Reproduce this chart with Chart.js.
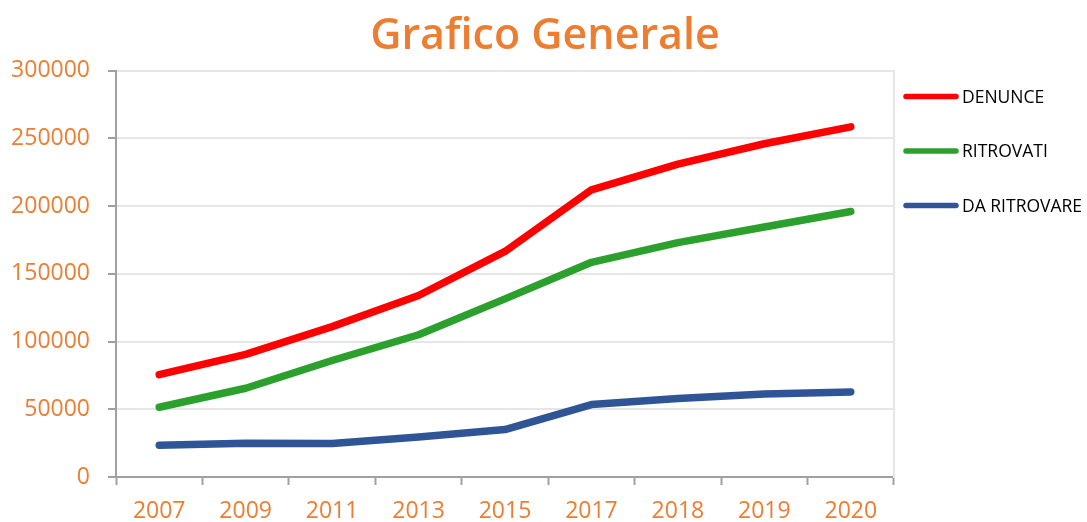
<!DOCTYPE html>
<html>
<head>
<meta charset="utf-8">
<script src="https://cdn.jsdelivr.net/npm/chart.js@4.4.1/dist/chart.umd.min.js"></script>
<style>
  html, body { margin: 0; padding: 0; background: #ffffff; }
  #wrap { width: 1087px; height: 522px; }
</style>
</head>
<body>
<div id="wrap"><canvas id="c" width="1087" height="522"></canvas></div>
<script>
const categories = ['2007', '2009', '2011', '2013', '2015', '2017', '2018', '2019', '2020'];
const denunce = [75500, 90500, 111000, 134000, 166500, 212000, 231000, 246000, 258500];
const ritrovati = [51500, 65500, 86000, 105000, 131500, 158500, 173000, 184500, 196000];
const daRitrovare = [23500, 25000, 24800, 29500, 35000, 53500, 58000, 61200, 62800];
const seriesNames = ['DENUNCE', 'RITROVATI', 'DA RITROVARE'];
const seriesColors = ['#FF0000', '#2CA02C', '#2F5597'];
const yTicks = [0, 50000, 100000, 150000, 200000, 250000, 300000];

const ORANGE = '#ED7D31';
const AXIS = '#A0A0A0';
const GRID = '#E6E6E6';
const FONT = "'Open Sans', 'Noto Sans', sans-serif";

const sideLegend = {
  id: 'sideLegend',
  afterDraw(chart) {
    const ctx = chart.ctx;
    const area = chart.chartArea;
    ctx.save();
    ctx.font = '17.5px ' + FONT;
    ctx.textBaseline = 'middle';
    ctx.textAlign = 'left';
    chart.data.datasets.forEach((ds, i) => {
      const y = area.top + 26 + i * 54.5;
      ctx.strokeStyle = ds.borderColor;
      ctx.lineWidth = 5.5;
      ctx.lineCap = 'round';
      ctx.beginPath();
      ctx.moveTo(area.right + 12, y);
      ctx.lineTo(area.right + 62, y);
      ctx.stroke();
      ctx.fillStyle = '#000000';
      ctx.fillText(ds.label, area.right + 68, y + 1);
    });
    ctx.restore();
  }
};

const datasets = [denunce, ritrovati, daRitrovare].map((vals, i) => ({
  label: seriesNames[i],
  data: vals,
  borderColor: seriesColors[i],
  backgroundColor: seriesColors[i],
  borderWidth: 7.5,
  borderCapStyle: 'round',
  borderJoinStyle: 'round',
  pointRadius: 0,
  pointHoverRadius: 0,
  tension: 0,
  fill: false
}));

new Chart(document.getElementById('c'), {
  type: 'line',
  data: { labels: categories, datasets },
  plugins: [sideLegend],
  options: {
    responsive: false,
    animation: false,
    devicePixelRatio: 1,
    layout: { autoPadding: false, padding: { left: 3, right: 0, top: 0, bottom: 0 } },
    plugins: {
      legend: { display: false },
      tooltip: { enabled: false },
      title: {
        display: true,
        text: 'Grafico Generale',
        color: ORANGE,
        font: { family: FONT, size: 43, weight: '600', lineHeight: 1.2 },
        padding: { top: 11, bottom: 8 }
      }
    },
    scales: {
      x: {
        type: 'category',
        offset: true,
        afterFit(scale) { scale.height = 45; },
        grid: {
          offset: true,
          drawOnChartArea: false,
          drawTicks: true,
          tickLength: 8,
          tickColor: AXIS,
          tickWidth: 2
        },
        border: { display: true, color: AXIS, width: 2 },
        ticks: {
          color: ORANGE,
          font: { family: FONT, size: 23, lineHeight: 1 },
          padding: 15,
          maxRotation: 0,
          autoSkip: false
        }
      },
      y: {
        min: 0,
        max: 300000,
        afterBuildTicks(scale) { scale.ticks = yTicks.map(v => ({ value: v })); },
        afterFit(scale) { scale.width = 113; },
        grid: {
          color: GRID,
          lineWidth: 2,
          drawTicks: true,
          tickLength: 8,
          tickColor: AXIS,
          tickWidth: 2
        },
        border: { display: true, color: AXIS, width: 2 },
        ticks: {
          color: ORANGE,
          font: { family: FONT, size: 23, lineHeight: 1 },
          padding: 18,
          callback: v => String(v)
        }
      },
      yRight: {
        position: 'right',
        min: 0,
        max: 300000,
        afterFit(scale) { scale.width = 193; },
        grid: { drawOnChartArea: false, drawTicks: false },
        border: { display: true, color: GRID, width: 2 },
        ticks: { display: false }
      }
    }
  }
});
</script>
</body>
</html>
